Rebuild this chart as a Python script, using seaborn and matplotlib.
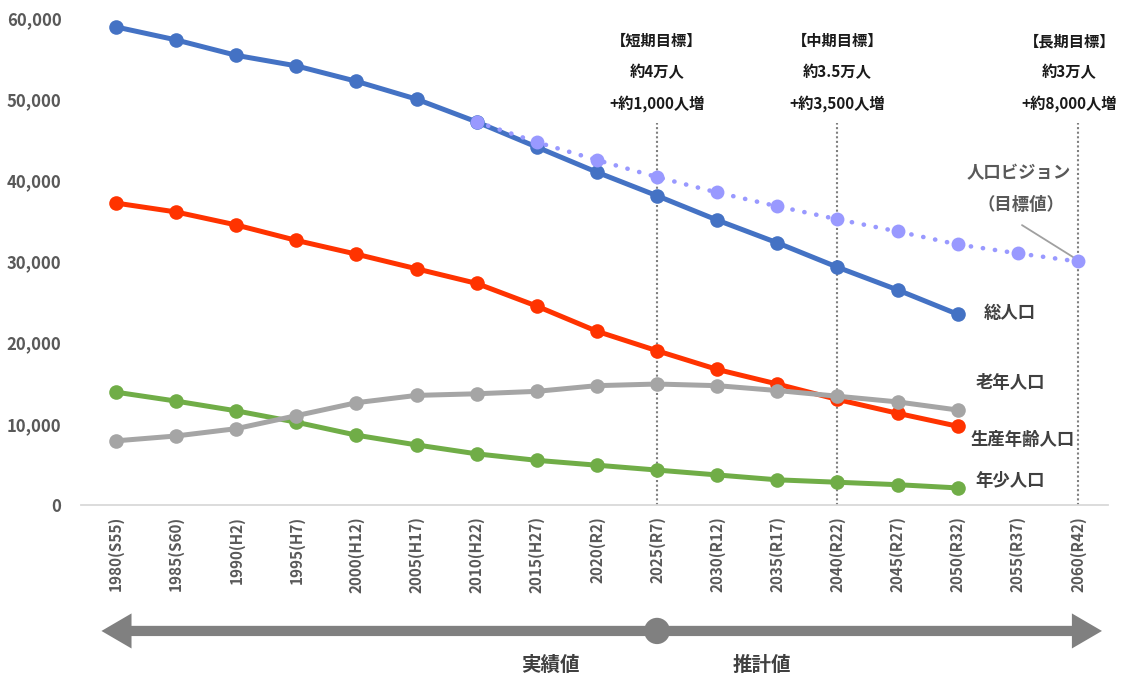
import numpy as np
import pandas as pd
import matplotlib
matplotlib.use("Agg")
import matplotlib.pyplot as plt
import seaborn as sns
from matplotlib.patches import Polygon, Ellipse
from matplotlib.transforms import blended_transform_factory

# Census years (Western calendar with Japanese era year)
years = ["1980(S55)", "1985(S60)", "1990(H2)", "1995(H7)", "2000(H12)",
         "2005(H17)", "2010(H22)", "2015(H27)", "2020(R2)", "2025(R7)",
         "2030(R12)", "2035(R17)", "2040(R22)", "2045(R27)", "2050(R32)",
         "2055(R37)", "2060(R42)"]

# Population by group, 1980-2050 (actual + projection)
total = [58900, 57300, 55400, 54100, 52200, 50000, 47200, 44100, 41000,
         38100, 35100, 32300, 29300, 26500, 23500]
working = [37200, 36100, 34500, 32600, 30900, 29100, 27300, 24500, 21400,
           19000, 16700, 14900, 13000, 11300, 9700]
elderly = [7900, 8500, 9400, 11000, 12600, 13500, 13700, 14000, 14700,
           14900, 14700, 14100, 13400, 12700, 11700]
young = [13900, 12800, 11600, 10200, 8600, 7400, 6300, 5500, 4900,
         4300, 3700, 3100, 2800, 2500, 2100]

# Population vision (target values), 2010-2060
vision_start = "2010(H22)"
vision = [47200, 44700, 42500, 40400, 38500, 36800, 35200, 33700, 32100,
          31000, 30000]

# Target milestones
target_years = ["2025(R7)", "2040(R22)", "2060(R42)"]
target_titles = ["【短期目標】", "【中期目標】", "【長期目標】"]
target_pop = ["約4万人", "約3.5万人", "約3万人"]
target_gain = ["+約1,000人増", "+約3,500人増", "+約8,000人増"]
target_text_shift = [0.0, 0.0, -0.14]

yticks = [0, 10000, 20000, 30000, 40000, 50000, 60000]

sns.set_theme(style="white")
plt.rcParams["font.family"] = ["Noto Sans CJK JP", "DejaVu Sans"]

fig = plt.figure(figsize=(11.22, 6.76), dpi=100)
ax = fig.add_axes([0.0722, 0.253, 0.9153, 0.7204])

pos = {y: i for i, y in enumerate(years)}

series = [
    ("総人口", total, "#4472C4"),
    ("生産年齢人口", working, "#FF3300"),
    ("年少人口", young, "#70AD47"),
    ("老年人口", elderly, "#A5A5A5"),
]
for name, vals, col in series:
    df = pd.DataFrame({"x": np.arange(len(vals)), "v": vals})
    sns.lineplot(data=df, x="x", y="v", ax=ax, color=col, lw=3.6,
                 marker="o", markersize=10.5, markeredgewidth=0,
                 legend=False, zorder=3)

# Vision line (dotted)
v0 = pos[vision_start]
dfv = pd.DataFrame({"x": np.arange(v0, v0 + len(vision)), "v": vision})
sns.lineplot(data=dfv, x="x", y="v", ax=ax, color="#9999FF", lw=3.3,
             linestyle=(0, (0.05, 2.6)), dash_capstyle="round",
             marker="o", markersize=10, markeredgewidth=0,
             legend=False, zorder=4)

# Milestone guides and annotations
for yr, t1, t2, t3, dx in zip(target_years, target_titles, target_pop,
                              target_gain, target_text_shift):
    xi = pos[yr]
    ax.axvline(xi, ymin=0, ymax=0.784, color="#7F7F7F", lw=1.5,
               ls=(0, (1, 1.2)), zorder=1)
    for yv, t in zip([57150, 53330, 49510], [t1, t2, t3]):
        ax.text(xi + dx, yv, t, ha="center", va="center", fontsize=11,
                fontweight="bold", color="#1A1A1A")

# Vision callout
ax.text(15.02, 40900, "人口ビジョン", ha="center", va="center", fontsize=12.5,
        color="#595959", fontweight="bold")
ax.text(15.05, 36950, "（目標値）", ha="center", va="center", fontsize=12.5,
        color="#595959", fontweight="bold")
ax.plot([15.07, 15.95], [34480, 30400], color="#A0A0A0", lw=1.3, zorder=2)

# Series labels
lab_kw = dict(ha="left", va="center", fontsize=12.5, fontweight="bold",
              color="#404040")
ax.text(14.43, 23650, "総人口", **lab_kw)
ax.text(14.3, 15020, "老年人口", **lab_kw)
ax.text(14.21, 8000, "生産年齢人口", **lab_kw)
ax.text(14.3, 2960, "年少人口", **lab_kw)

# Axes styling
ax.set_xlim(-0.58, 16.5)
ax.set_ylim(0, 60000)
ax.set_xticks(range(len(years)))
ax.set_xticklabels(years, rotation=90, fontweight="bold", fontsize=11,
                   color="#595959")
ax.set_yticks(yticks)
ax.set_yticklabels([f"{v:,}" for v in yticks], fontweight="bold",
                   fontsize=12, color="#595959")
ax.tick_params(axis="y", length=0, pad=14)
ax.tick_params(axis="x", length=0, pad=8)
ax.set_xlabel("")
ax.set_ylabel("")
for s in ["left", "top", "right"]:
    ax.spines[s].set_visible(False)
ax.spines["bottom"].set_color("#D9D9D9")
ax.spines["bottom"].set_linewidth(1.3)
ax.grid(False)

# Timeline arrow: actual vs projected
tr = blended_transform_factory(ax.transData, ax.transAxes)
yc, sh, hh = -0.2587, 0.0105, 0.036
xl, xr, hl = -0.24, 16.4, 0.5
arrow = Polygon([
    (xl, yc), (xl + hl, yc + hh), (xl + hl, yc + sh), (xr - hl, yc + sh),
    (xr - hl, yc + hh), (xr, yc), (xr - hl, yc - hh), (xr - hl, yc - sh),
    (xl + hl, yc - sh), (xl + hl, yc - hh)],
    closed=True, transform=tr, facecolor="#808080", edgecolor="none",
    clip_on=False)
ax.add_patch(arrow)
ax.add_patch(Ellipse((pos["2025(R7)"], yc), width=0.43, height=0.054,
                     transform=tr, facecolor="#808080", edgecolor="none",
                     clip_on=False))
ax.text(7.23, -0.3285, "実績値", transform=tr, ha="center", va="center",
        fontsize=14, color="#404040", fontweight="bold")
ax.text(10.74, -0.3285, "推計値", transform=tr, ha="center", va="center",
        fontsize=14, color="#404040", fontweight="bold")

fig.savefig("out.png", dpi=100, facecolor="white")
